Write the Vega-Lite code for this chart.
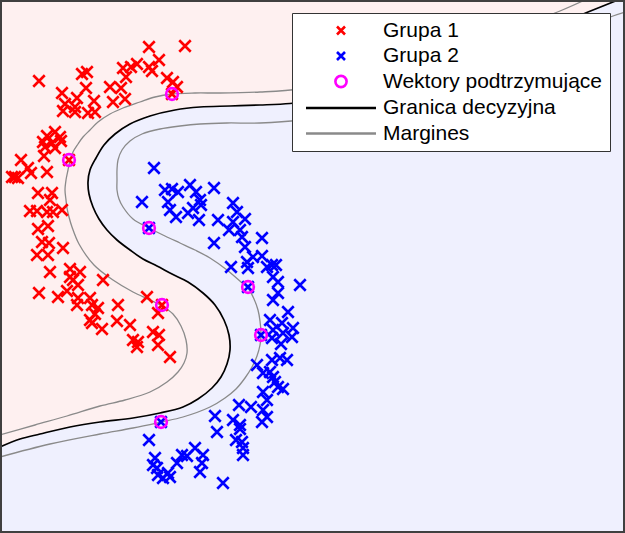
{
  "$schema": "https://vega.github.io/schema/vega-lite/v6.json",
  "width": 625,
  "height": 533,
  "autosize": {"type": "none"},
  "padding": 0,
  "background": "white",
  "config": {"view": {"stroke": null, "fill": "#eff0fe"}},
  "datasets": {
    "curves": [
      {"curve":"b","series":"Granica decyzyjna","i":0,"x":618,"y":0},
      {"curve":"b","series":"Granica decyzyjna","i":1,"x":588,"y":12},
      {"curve":"b","series":"Granica decyzyjna","i":2,"x":545,"y":30},
      {"curve":"b","series":"Granica decyzyjna","i":3,"x":490,"y":52},
      {"curve":"b","series":"Granica decyzyjna","i":4,"x":430,"y":74},
      {"curve":"b","series":"Granica decyzyjna","i":5,"x":370,"y":91},
      {"curve":"b","series":"Granica decyzyjna","i":6,"x":320,"y":100},
      {"curve":"b","series":"Granica decyzyjna","i":7,"x":290,"y":103.5},
      {"curve":"b","series":"Granica decyzyjna","i":8,"x":260,"y":105},
      {"curve":"b","series":"Granica decyzyjna","i":9,"x":230,"y":106},
      {"curve":"b","series":"Granica decyzyjna","i":10,"x":200,"y":107},
      {"curve":"b","series":"Granica decyzyjna","i":11,"x":175,"y":110},
      {"curve":"b","series":"Granica decyzyjna","i":12,"x":150,"y":116},
      {"curve":"b","series":"Granica decyzyjna","i":13,"x":130,"y":124},
      {"curve":"b","series":"Granica decyzyjna","i":14,"x":115,"y":134},
      {"curve":"b","series":"Granica decyzyjna","i":15,"x":104,"y":145},
      {"curve":"b","series":"Granica decyzyjna","i":16,"x":96,"y":158},
      {"curve":"b","series":"Granica decyzyjna","i":17,"x":90,"y":170},
      {"curve":"b","series":"Granica decyzyjna","i":18,"x":88,"y":182},
      {"curve":"b","series":"Granica decyzyjna","i":19,"x":89,"y":194},
      {"curve":"b","series":"Granica decyzyjna","i":20,"x":93,"y":207},
      {"curve":"b","series":"Granica decyzyjna","i":21,"x":99,"y":219},
      {"curve":"b","series":"Granica decyzyjna","i":22,"x":107,"y":230},
      {"curve":"b","series":"Granica decyzyjna","i":23,"x":117,"y":240},
      {"curve":"b","series":"Granica decyzyjna","i":24,"x":130,"y":250},
      {"curve":"b","series":"Granica decyzyjna","i":25,"x":143,"y":259},
      {"curve":"b","series":"Granica decyzyjna","i":26,"x":157,"y":266},
      {"curve":"b","series":"Granica decyzyjna","i":27,"x":172,"y":274},
      {"curve":"b","series":"Granica decyzyjna","i":28,"x":188,"y":282},
      {"curve":"b","series":"Granica decyzyjna","i":29,"x":203,"y":293},
      {"curve":"b","series":"Granica decyzyjna","i":30,"x":215,"y":305},
      {"curve":"b","series":"Granica decyzyjna","i":31,"x":224,"y":320},
      {"curve":"b","series":"Granica decyzyjna","i":32,"x":229,"y":335},
      {"curve":"b","series":"Granica decyzyjna","i":33,"x":230,"y":350},
      {"curve":"b","series":"Granica decyzyjna","i":34,"x":227,"y":364},
      {"curve":"b","series":"Granica decyzyjna","i":35,"x":221,"y":377},
      {"curve":"b","series":"Granica decyzyjna","i":36,"x":212,"y":388},
      {"curve":"b","series":"Granica decyzyjna","i":37,"x":198,"y":399},
      {"curve":"b","series":"Granica decyzyjna","i":38,"x":183,"y":407},
      {"curve":"b","series":"Granica decyzyjna","i":39,"x":160,"y":413},
      {"curve":"b","series":"Granica decyzyjna","i":40,"x":133,"y":418},
      {"curve":"b","series":"Granica decyzyjna","i":41,"x":100,"y":422},
      {"curve":"b","series":"Granica decyzyjna","i":42,"x":70,"y":427},
      {"curve":"b","series":"Granica decyzyjna","i":43,"x":40,"y":434},
      {"curve":"b","series":"Granica decyzyjna","i":44,"x":20,"y":439},
      {"curve":"b","series":"Granica decyzyjna","i":45,"x":0,"y":447},

      {"curve":"u","series":"Margines","i":0,"x":585,"y":0},
      {"curve":"u","series":"Margines","i":1,"x":560,"y":11},
      {"curve":"u","series":"Margines","i":2,"x":520,"y":26},
      {"curve":"u","series":"Margines","i":3,"x":470,"y":44},
      {"curve":"u","series":"Margines","i":4,"x":410,"y":63},
      {"curve":"u","series":"Margines","i":5,"x":350,"y":79},
      {"curve":"u","series":"Margines","i":6,"x":300,"y":89},
      {"curve":"u","series":"Margines","i":7,"x":260,"y":92},
      {"curve":"u","series":"Margines","i":8,"x":220,"y":93},
      {"curve":"u","series":"Margines","i":9,"x":195,"y":93},
      {"curve":"u","series":"Margines","i":10,"x":172,"y":94},
      {"curve":"u","series":"Margines","i":11,"x":155,"y":97},
      {"curve":"u","series":"Margines","i":12,"x":140,"y":102},
      {"curve":"u","series":"Margines","i":13,"x":123,"y":108},
      {"curve":"u","series":"Margines","i":14,"x":110,"y":114},
      {"curve":"u","series":"Margines","i":15,"x":98,"y":122},
      {"curve":"u","series":"Margines","i":16,"x":90,"y":130},
      {"curve":"u","series":"Margines","i":17,"x":83,"y":137},
      {"curve":"u","series":"Margines","i":18,"x":78,"y":144},
      {"curve":"u","series":"Margines","i":19,"x":73,"y":152},
      {"curve":"u","series":"Margines","i":20,"x":70,"y":161},
      {"curve":"u","series":"Margines","i":21,"x":68,"y":170},
      {"curve":"u","series":"Margines","i":22,"x":66,"y":180},
      {"curve":"u","series":"Margines","i":23,"x":65,"y":190},
      {"curve":"u","series":"Margines","i":24,"x":66,"y":200},
      {"curve":"u","series":"Margines","i":25,"x":67,"y":208},
      {"curve":"u","series":"Margines","i":26,"x":69,"y":217},
      {"curve":"u","series":"Margines","i":27,"x":72,"y":227},
      {"curve":"u","series":"Margines","i":28,"x":79,"y":244},
      {"curve":"u","series":"Margines","i":29,"x":94,"y":265},
      {"curve":"u","series":"Margines","i":30,"x":113,"y":280},
      {"curve":"u","series":"Margines","i":31,"x":133,"y":292},
      {"curve":"u","series":"Margines","i":32,"x":150,"y":300},
      {"curve":"u","series":"Margines","i":33,"x":162,"y":306},
      {"curve":"u","series":"Margines","i":34,"x":173,"y":314},
      {"curve":"u","series":"Margines","i":35,"x":181,"y":326},
      {"curve":"u","series":"Margines","i":36,"x":186,"y":340},
      {"curve":"u","series":"Margines","i":37,"x":187,"y":353},
      {"curve":"u","series":"Margines","i":38,"x":184,"y":363},
      {"curve":"u","series":"Margines","i":39,"x":178,"y":372},
      {"curve":"u","series":"Margines","i":40,"x":167,"y":382},
      {"curve":"u","series":"Margines","i":41,"x":150,"y":392},
      {"curve":"u","series":"Margines","i":42,"x":125,"y":400},
      {"curve":"u","series":"Margines","i":43,"x":100,"y":406},
      {"curve":"u","series":"Margines","i":44,"x":67,"y":416},
      {"curve":"u","series":"Margines","i":45,"x":35,"y":425},
      {"curve":"u","series":"Margines","i":46,"x":0,"y":435},

      {"curve":"l","series":"Margines","i":0,"x":625,"y":12},
      {"curve":"l","series":"Margines","i":1,"x":613,"y":16},
      {"curve":"l","series":"Margines","i":2,"x":580,"y":30},
      {"curve":"l","series":"Margines","i":3,"x":530,"y":52},
      {"curve":"l","series":"Margines","i":4,"x":470,"y":75},
      {"curve":"l","series":"Margines","i":5,"x":410,"y":95},
      {"curve":"l","series":"Margines","i":6,"x":350,"y":111},
      {"curve":"l","series":"Margines","i":7,"x":300,"y":120},
      {"curve":"l","series":"Margines","i":8,"x":260,"y":123},
      {"curve":"l","series":"Margines","i":9,"x":227,"y":123},
      {"curve":"l","series":"Margines","i":10,"x":200,"y":124},
      {"curve":"l","series":"Margines","i":11,"x":180,"y":126},
      {"curve":"l","series":"Margines","i":12,"x":160,"y":129},
      {"curve":"l","series":"Margines","i":13,"x":142,"y":134},
      {"curve":"l","series":"Margines","i":14,"x":130,"y":141},
      {"curve":"l","series":"Margines","i":15,"x":122,"y":150},
      {"curve":"l","series":"Margines","i":16,"x":118,"y":160},
      {"curve":"l","series":"Margines","i":17,"x":117,"y":170},
      {"curve":"l","series":"Margines","i":18,"x":117,"y":180},
      {"curve":"l","series":"Margines","i":19,"x":117,"y":190},
      {"curve":"l","series":"Margines","i":20,"x":119,"y":199},
      {"curve":"l","series":"Margines","i":21,"x":123,"y":207},
      {"curve":"l","series":"Margines","i":22,"x":133,"y":219},
      {"curve":"l","series":"Margines","i":23,"x":149,"y":228},
      {"curve":"l","series":"Margines","i":24,"x":165,"y":236},
      {"curve":"l","series":"Margines","i":25,"x":180,"y":243},
      {"curve":"l","series":"Margines","i":26,"x":195,"y":250},
      {"curve":"l","series":"Margines","i":27,"x":210,"y":258},
      {"curve":"l","series":"Margines","i":28,"x":227,"y":270},
      {"curve":"l","series":"Margines","i":29,"x":241,"y":282},
      {"curve":"l","series":"Margines","i":30,"x":248,"y":288},
      {"curve":"l","series":"Margines","i":31,"x":254,"y":299},
      {"curve":"l","series":"Margines","i":32,"x":258,"y":310},
      {"curve":"l","series":"Margines","i":33,"x":260,"y":321},
      {"curve":"l","series":"Margines","i":34,"x":261,"y":335},
      {"curve":"l","series":"Margines","i":35,"x":260,"y":345},
      {"curve":"l","series":"Margines","i":36,"x":257,"y":356},
      {"curve":"l","series":"Margines","i":37,"x":252,"y":367},
      {"curve":"l","series":"Margines","i":38,"x":245,"y":378},
      {"curve":"l","series":"Margines","i":39,"x":236,"y":389},
      {"curve":"l","series":"Margines","i":40,"x":225,"y":398},
      {"curve":"l","series":"Margines","i":41,"x":210,"y":407},
      {"curve":"l","series":"Margines","i":42,"x":183,"y":417},
      {"curve":"l","series":"Margines","i":43,"x":161,"y":422},
      {"curve":"l","series":"Margines","i":44,"x":133,"y":428},
      {"curve":"l","series":"Margines","i":45,"x":100,"y":434},
      {"curve":"l","series":"Margines","i":46,"x":50,"y":444},
      {"curve":"l","series":"Margines","i":47,"x":0,"y":457}
    ],
    "points": [
      {"series":"Grupa 1","x":149,"y":47},{"series":"Grupa 1","x":185,"y":46},{"series":"Grupa 1","x":159,"y":60},
      {"series":"Grupa 1","x":137,"y":64},{"series":"Grupa 1","x":131,"y":67},{"series":"Grupa 1","x":123,"y":68},
      {"series":"Grupa 1","x":149,"y":67},{"series":"Grupa 1","x":152,"y":71},{"series":"Grupa 1","x":126,"y":77},
      {"series":"Grupa 1","x":167,"y":78},{"series":"Grupa 1","x":173,"y":82},{"series":"Grupa 1","x":177,"y":87},
      {"series":"Grupa 1","x":172,"y":94},{"series":"Grupa 1","x":39,"y":81},{"series":"Grupa 1","x":82,"y":74},
      {"series":"Grupa 1","x":87,"y":72},{"series":"Grupa 1","x":86,"y":88},{"series":"Grupa 1","x":110,"y":87},
      {"series":"Grupa 1","x":121,"y":88},{"series":"Grupa 1","x":62,"y":93},{"series":"Grupa 1","x":77,"y":98},
      {"series":"Grupa 1","x":94,"y":101},{"series":"Grupa 1","x":113,"y":102},{"series":"Grupa 1","x":125,"y":99},
      {"series":"Grupa 1","x":65,"y":104},{"series":"Grupa 1","x":75,"y":107},{"series":"Grupa 1","x":63,"y":111},
      {"series":"Grupa 1","x":75,"y":112},{"series":"Grupa 1","x":88,"y":113},{"series":"Grupa 1","x":95,"y":112},
      {"series":"Grupa 1","x":55,"y":132},{"series":"Grupa 1","x":47,"y":136},{"series":"Grupa 1","x":60,"y":137},
      {"series":"Grupa 1","x":43,"y":142},{"series":"Grupa 1","x":52,"y":143},{"series":"Grupa 1","x":61,"y":141},
      {"series":"Grupa 1","x":45,"y":147},{"series":"Grupa 1","x":55,"y":148},{"series":"Grupa 1","x":44,"y":156},
      {"series":"Grupa 1","x":21,"y":160},{"series":"Grupa 1","x":69,"y":160},{"series":"Grupa 1","x":28,"y":168},
      {"series":"Grupa 1","x":47,"y":172},{"series":"Grupa 1","x":31,"y":173},{"series":"Grupa 1","x":15,"y":177},
      {"series":"Grupa 1","x":12,"y":177},{"series":"Grupa 1","x":18,"y":178},
      {"series":"Grupa 1","x":38,"y":193},{"series":"Grupa 1","x":52,"y":193},{"series":"Grupa 1","x":50,"y":200},
      {"series":"Grupa 1","x":30,"y":211},{"series":"Grupa 1","x":37,"y":211},{"series":"Grupa 1","x":47,"y":212},
      {"series":"Grupa 1","x":53,"y":212},{"series":"Grupa 1","x":62,"y":210},
      {"series":"Grupa 1","x":38,"y":229},{"series":"Grupa 1","x":48,"y":226},{"series":"Grupa 1","x":42,"y":242},
      {"series":"Grupa 1","x":49,"y":243},{"series":"Grupa 1","x":63,"y":248},{"series":"Grupa 1","x":37,"y":255},
      {"series":"Grupa 1","x":48,"y":255},
      {"series":"Grupa 1","x":50,"y":272},{"series":"Grupa 1","x":70,"y":269},{"series":"Grupa 1","x":80,"y":272},
      {"series":"Grupa 1","x":70,"y":277},{"series":"Grupa 1","x":73,"y":280},{"series":"Grupa 1","x":78,"y":285},
      {"series":"Grupa 1","x":103,"y":280},
      {"series":"Grupa 1","x":39,"y":293},{"series":"Grupa 1","x":58,"y":297},{"series":"Grupa 1","x":67,"y":291},
      {"series":"Grupa 1","x":78,"y":298},{"series":"Grupa 1","x":90,"y":298},{"series":"Grupa 1","x":77,"y":305},
      {"series":"Grupa 1","x":92,"y":305},{"series":"Grupa 1","x":98,"y":308},{"series":"Grupa 1","x":95,"y":314},
      {"series":"Grupa 1","x":90,"y":320},{"series":"Grupa 1","x":92,"y":323},{"series":"Grupa 1","x":118,"y":305},
      {"series":"Grupa 1","x":102,"y":329},
      {"series":"Grupa 1","x":147,"y":297},{"series":"Grupa 1","x":162,"y":305},{"series":"Grupa 1","x":158,"y":313},
      {"series":"Grupa 1","x":117,"y":321},{"series":"Grupa 1","x":130,"y":325},{"series":"Grupa 1","x":153,"y":332},
      {"series":"Grupa 1","x":159,"y":335},{"series":"Grupa 1","x":133,"y":340},{"series":"Grupa 1","x":138,"y":342},
      {"series":"Grupa 1","x":137,"y":347},{"series":"Grupa 1","x":158,"y":345},{"series":"Grupa 1","x":170,"y":357},

      {"series":"Grupa 2","x":154,"y":168},{"series":"Grupa 2","x":142,"y":202},{"series":"Grupa 2","x":165,"y":190},
      {"series":"Grupa 2","x":172,"y":189},{"series":"Grupa 2","x":178,"y":192},{"series":"Grupa 2","x":190,"y":185},
      {"series":"Grupa 2","x":196,"y":192},{"series":"Grupa 2","x":214,"y":188},{"series":"Grupa 2","x":168,"y":202},
      {"series":"Grupa 2","x":170,"y":210},{"series":"Grupa 2","x":176,"y":217},{"series":"Grupa 2","x":188,"y":213},
      {"series":"Grupa 2","x":193,"y":208},{"series":"Grupa 2","x":200,"y":200},{"series":"Grupa 2","x":201,"y":205},
      {"series":"Grupa 2","x":199,"y":220},{"series":"Grupa 2","x":149,"y":228},
      {"series":"Grupa 2","x":218,"y":220},{"series":"Grupa 2","x":233,"y":203},{"series":"Grupa 2","x":237,"y":212},
      {"series":"Grupa 2","x":245,"y":219},{"series":"Grupa 2","x":233,"y":222},{"series":"Grupa 2","x":229,"y":230},
      {"series":"Grupa 2","x":240,"y":230},{"series":"Grupa 2","x":242,"y":237},{"series":"Grupa 2","x":214,"y":243},
      {"series":"Grupa 2","x":262,"y":238},{"series":"Grupa 2","x":245,"y":247},{"series":"Grupa 2","x":253,"y":257},
      {"series":"Grupa 2","x":262,"y":256},{"series":"Grupa 2","x":247,"y":262},{"series":"Grupa 2","x":248,"y":268},
      {"series":"Grupa 2","x":231,"y":267},{"series":"Grupa 2","x":267,"y":267},{"series":"Grupa 2","x":272,"y":265},
      {"series":"Grupa 2","x":276,"y":265},{"series":"Grupa 2","x":273,"y":277},{"series":"Grupa 2","x":278,"y":282},
      {"series":"Grupa 2","x":300,"y":285},{"series":"Grupa 2","x":248,"y":287},{"series":"Grupa 2","x":278,"y":293},
      {"series":"Grupa 2","x":273,"y":300},{"series":"Grupa 2","x":288,"y":312},{"series":"Grupa 2","x":270,"y":320},
      {"series":"Grupa 2","x":282,"y":323},{"series":"Grupa 2","x":293,"y":328},{"series":"Grupa 2","x":273,"y":330},
      {"series":"Grupa 2","x":283,"y":333},{"series":"Grupa 2","x":292,"y":337},{"series":"Grupa 2","x":272,"y":338},
      {"series":"Grupa 2","x":281,"y":344},{"series":"Grupa 2","x":261,"y":335},
      {"series":"Grupa 2","x":272,"y":360},{"series":"Grupa 2","x":280,"y":358},{"series":"Grupa 2","x":287,"y":360},
      {"series":"Grupa 2","x":257,"y":365},{"series":"Grupa 2","x":263,"y":373},{"series":"Grupa 2","x":270,"y":372},
      {"series":"Grupa 2","x":273,"y":377},{"series":"Grupa 2","x":275,"y":382},{"series":"Grupa 2","x":278,"y":387},
      {"series":"Grupa 2","x":283,"y":389},{"series":"Grupa 2","x":263,"y":392},{"series":"Grupa 2","x":267,"y":400},
      {"series":"Grupa 2","x":239,"y":405},{"series":"Grupa 2","x":251,"y":407},{"series":"Grupa 2","x":263,"y":410},
      {"series":"Grupa 2","x":267,"y":417},{"series":"Grupa 2","x":262,"y":422},{"series":"Grupa 2","x":215,"y":416},
      {"series":"Grupa 2","x":233,"y":420},{"series":"Grupa 2","x":240,"y":425},{"series":"Grupa 2","x":240,"y":429},
      {"series":"Grupa 2","x":217,"y":432},{"series":"Grupa 2","x":236,"y":440},{"series":"Grupa 2","x":242,"y":442},
      {"series":"Grupa 2","x":243,"y":448},{"series":"Grupa 2","x":243,"y":455},{"series":"Grupa 2","x":161,"y":422},
      {"series":"Grupa 2","x":149,"y":440},{"series":"Grupa 2","x":155,"y":458},{"series":"Grupa 2","x":153,"y":465},
      {"series":"Grupa 2","x":157,"y":468},{"series":"Grupa 2","x":158,"y":475},{"series":"Grupa 2","x":163,"y":478},
      {"series":"Grupa 2","x":170,"y":477},{"series":"Grupa 2","x":168,"y":473},{"series":"Grupa 2","x":177,"y":463},
      {"series":"Grupa 2","x":182,"y":455},{"series":"Grupa 2","x":187,"y":456},{"series":"Grupa 2","x":195,"y":448},
      {"series":"Grupa 2","x":203,"y":455},{"series":"Grupa 2","x":202,"y":463},{"series":"Grupa 2","x":200,"y":472},
      {"series":"Grupa 2","x":223,"y":483}
    ],
    "sv": [
      {"series":"Wektory podtrzymujące","x":172,"y":94},
      {"series":"Wektory podtrzymujące","x":69,"y":160},
      {"series":"Wektory podtrzymujące","x":149,"y":228},
      {"series":"Wektory podtrzymujące","x":248,"y":287},
      {"series":"Wektory podtrzymujące","x":162,"y":305},
      {"series":"Wektory podtrzymujące","x":261,"y":335},
      {"series":"Wektory podtrzymujące","x":161,"y":422}
    ]
  },
  "encoding": {
    "x": {"type": "quantitative", "scale": {"domain": [0, 625], "nice": false, "zero": false}, "axis": null},
    "y": {"type": "quantitative", "scale": {"domain": [0, 533], "nice": false, "zero": false, "reverse": true}, "axis": null}
  },
  "layer": [
    {
      "data": {"name": "curves"},
      "transform": [{"filter": "datum.curve === 'b'"}],
      "mark": {"type": "area", "orient": "horizontal", "interpolate": "catmull-rom", "color": "#fef0f0", "clip": true},
      "encoding": {
        "x": {"field": "x", "type": "quantitative", "stack": null},
        "y": {"field": "y", "type": "quantitative"}
      }
    },
    {
      "data": {"name": "curves"},
      "transform": [{"filter": "datum.curve !== 'b'"}],
      "mark": {"type": "line", "interpolate": "catmull-rom", "strokeWidth": 1.3, "clip": true},
      "encoding": {
        "x": {"field": "x", "type": "quantitative"},
        "y": {"field": "y", "type": "quantitative"},
        "detail": {"field": "curve"},
        "order": {"field": "i", "type": "quantitative"},
        "color": {
          "field": "series", "type": "nominal",
          "scale": {"domain": ["Grupa 1", "Grupa 2", "Wektory podtrzymujące", "Granica decyzyjna", "Margines"], "range": ["#ff0000", "#0000ff", "#ff00ff", "#000000", "#8a8a8a"]}
        }
      }
    },
    {
      "data": {"name": "curves"},
      "transform": [{"filter": "datum.curve === 'b'"}],
      "mark": {"type": "line", "interpolate": "catmull-rom", "strokeWidth": 1.7, "clip": true},
      "encoding": {
        "x": {"field": "x", "type": "quantitative"},
        "y": {"field": "y", "type": "quantitative"},
        "order": {"field": "i", "type": "quantitative"},
        "color": {
          "field": "series", "type": "nominal",
          "scale": {"domain": ["Grupa 1", "Grupa 2", "Wektory podtrzymujące", "Granica decyzyjna", "Margines"], "range": ["#ff0000", "#0000ff", "#ff00ff", "#000000", "#8a8a8a"]}
        }
      }
    },
    {
      "data": {"name": "points"},
      "mark": {"type": "point", "filled": false, "size": 132, "opacity": 1},
      "encoding": {
        "x": {"field": "x", "type": "quantitative"},
        "y": {"field": "y", "type": "quantitative"},
        "color": {
          "field": "series", "type": "nominal",
          "scale": {"domain": ["Grupa 1", "Grupa 2", "Wektory podtrzymujące", "Granica decyzyjna", "Margines"], "range": ["#ff0000", "#0000ff", "#ff00ff", "#000000", "#8a8a8a"]},
          "legend": {
            "title": null, "orient": "none", "legendX": 292, "legendY": 13,
            "padding": 7, "rowPadding": 3.5, "symbolOffset": 31.5, "labelOffset": 31.5,
            "labelFont": "Liberation Sans", "labelFontSize": 21, "labelColor": "#000000", "labelLimit": 400,
            "strokeColor": "#333333", "fillColor": "#ffffff", "symbolSize": 64,
            "zindex": 5,
            "encode": {"legend": {"strokeWidth": {"value": 1.5}}}
          }
        },
        "shape": {
          "field": "series", "type": "nominal",
          "scale": {"domain": ["Grupa 1", "Grupa 2", "Wektory podtrzymujące", "Granica decyzyjna", "Margines"], "range": ["M-1,-1L1,1M-1,1L1,-1", "M-1,-1L1,1M-1,1L1,-1", "M-1.4,0A1.4,1.4,0,1,1,1.4,0A1.4,1.4,0,1,1,-1.4,0Z", "M-8.75,0L8.75,0", "M-8.75,0L8.75,0"]},
          "legend": {
            "title": null, "orient": "none", "legendX": 292, "legendY": 13,
            "padding": 7, "rowPadding": 3.5, "symbolOffset": 31.5, "labelOffset": 31.5,
            "labelFont": "Liberation Sans", "labelFontSize": 21, "labelColor": "#000000", "labelLimit": 400,
            "strokeColor": "#333333", "fillColor": "#ffffff", "symbolSize": 64,
            "zindex": 5,
            "encode": {"legend": {"strokeWidth": {"value": 1.5}}}
          }
        },
        "strokeWidth": {
          "field": "series", "type": "nominal",
          "scale": {"domain": ["Grupa 1", "Grupa 2", "Wektory podtrzymujące", "Granica decyzyjna", "Margines"], "range": [2.6, 2.6, 2.5, 1.3, 1.3]},
          "legend": {
            "title": null, "orient": "none", "legendX": 292, "legendY": 13,
            "padding": 7, "rowPadding": 3.5, "symbolOffset": 31.5, "labelOffset": 31.5,
            "labelFont": "Liberation Sans", "labelFontSize": 21, "labelColor": "#000000", "labelLimit": 400,
            "strokeColor": "#333333", "fillColor": "#ffffff", "symbolSize": 64,
            "zindex": 5,
            "encode": {"legend": {"strokeWidth": {"value": 1.5}}}
          }
        }
      }
    },
    {
      "data": {"name": "sv"},
      "mark": {"type": "point", "filled": false, "size": 70, "opacity": 1},
      "encoding": {
        "x": {"field": "x", "type": "quantitative"},
        "y": {"field": "y", "type": "quantitative"},
        "color": {
          "field": "series", "type": "nominal",
          "scale": {"domain": ["Grupa 1", "Grupa 2", "Wektory podtrzymujące", "Granica decyzyjna", "Margines"], "range": ["#ff0000", "#0000ff", "#ff00ff", "#000000", "#8a8a8a"]}
        },
        "shape": {
          "field": "series", "type": "nominal",
          "scale": {"domain": ["Grupa 1", "Grupa 2", "Wektory podtrzymujące", "Granica decyzyjna", "Margines"], "range": ["M-1,-1L1,1M-1,1L1,-1", "M-1,-1L1,1M-1,1L1,-1", "M-1.4,0A1.4,1.4,0,1,1,1.4,0A1.4,1.4,0,1,1,-1.4,0Z", "M-8.75,0L8.75,0", "M-8.75,0L8.75,0"]}
        },
        "strokeWidth": {
          "field": "series", "type": "nominal",
          "scale": {"domain": ["Grupa 1", "Grupa 2", "Wektory podtrzymujące", "Granica decyzyjna", "Margines"], "range": [2.6, 2.6, 2.5, 1.3, 1.3]}
        }
      }
    },
    {
      "data": {"values": [{}]},
      "mark": {"type": "rect", "fill": null, "fillOpacity": 0, "stroke": "#404040", "strokeWidth": 4},
      "encoding": {
        "x": {"datum": 0, "type": "quantitative"},
        "x2": {"datum": 625},
        "y": {"datum": 0, "type": "quantitative"},
        "y2": {"datum": 533}
      }
    }
  ]
}
